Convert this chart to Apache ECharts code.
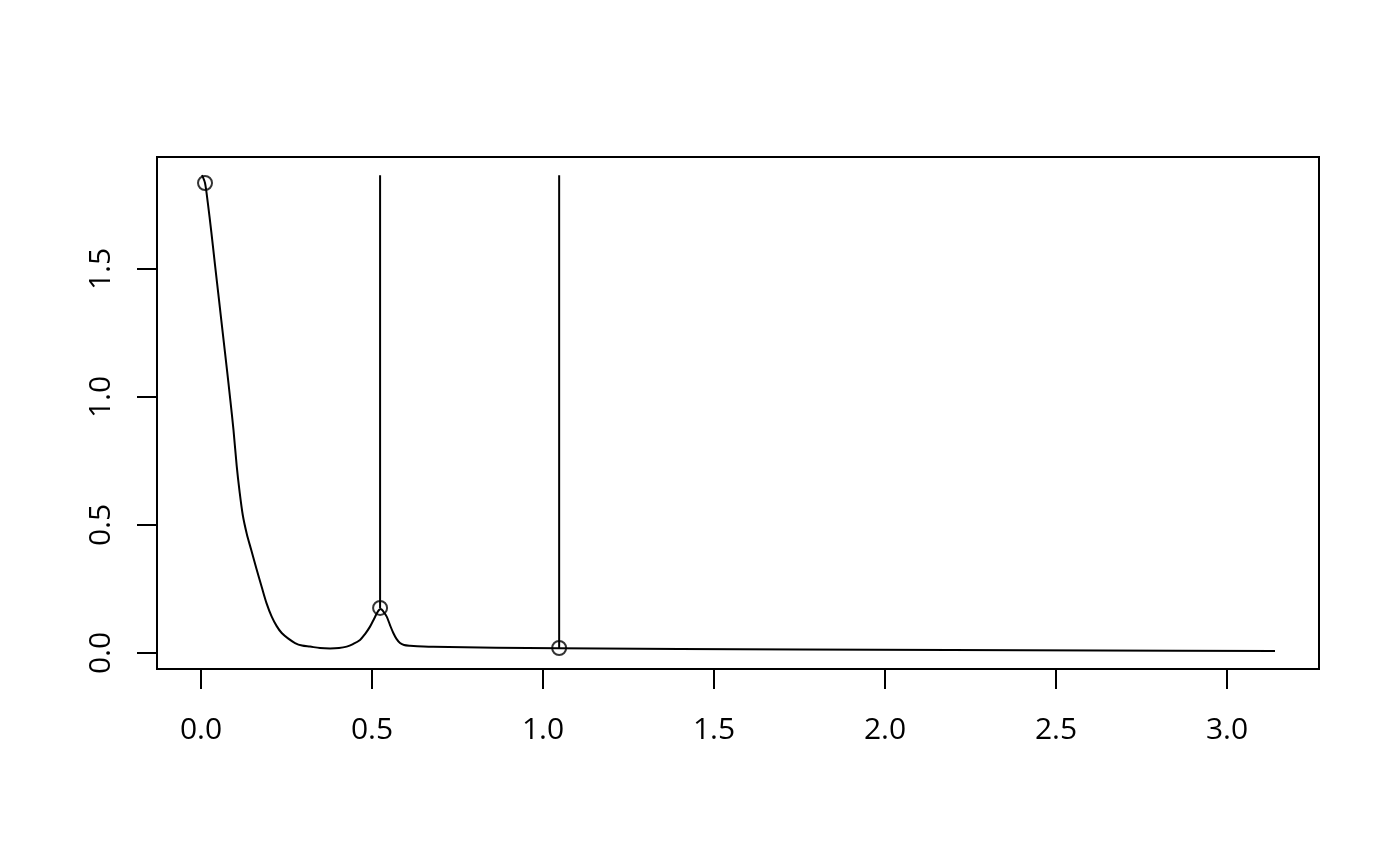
<!DOCTYPE html>
<html>
<head>
<meta charset="utf-8">
<script src="https://cdn.jsdelivr.net/npm/echarts@6/dist/echarts.min.js"></script>
<style>html,body{margin:0;padding:0;background:#fff;}#c{width:1400px;height:866px;}</style>
</head>
<body>
<div id="c"></div>
<script>
// spectral curve (frequency, density)
const freq = [0.0029, 0.0117, 0.0199, 0.0301, 0.0409, 0.0526, 0.0643, 0.076, 0.0857, 0.095, 0.1044, 0.1126, 0.1222, 0.1339, 0.1465, 0.1623, 0.1775, 0.1915, 0.2067, 0.2213, 0.236, 0.2544, 0.2749, 0.2953, 0.3187, 0.348, 0.3772, 0.4035, 0.426, 0.4444, 0.4649, 0.4795, 0.4942, 0.5058, 0.5146, 0.5205, 0.5254, 0.5322, 0.543, 0.5526, 0.5623, 0.5716, 0.5819, 0.5936, 0.6111, 0.6784, 1.0468, 1.751, 2.629, 3.1404];
const spec = [1.867, 1.836, 1.758, 1.645, 1.516, 1.379, 1.242, 1.105, 0.988, 0.871, 0.730, 0.632, 0.538, 0.465, 0.404, 0.328, 0.258, 0.195, 0.142, 0.105, 0.078, 0.057, 0.039, 0.029, 0.025, 0.0195, 0.018, 0.0195, 0.025, 0.035, 0.051, 0.074, 0.103, 0.133, 0.156, 0.168, 0.172, 0.164, 0.142, 0.109, 0.078, 0.055, 0.039, 0.031, 0.0285, 0.0246, 0.0184, 0.0137, 0.0098, 0.0078];
// marked peaks
const peakX = [0.0117, 0.5236, 1.0472];
const peakY = [1.836, 0.176, 0.0195];
// vertical segments (from top value down to peak)
const segX = [0.5236, 1.0472];
const segTop = 1.866;
const segBottom = [0.176, 0.0195];
// tick labels
const xTicks = [0, 0.5, 1.0, 1.5, 2.0, 2.5, 3.0];
const yTicks = [0, 0.5, 1.0, 1.5];

const chart = echarts.init(document.getElementById('c'), null, {renderer: 'canvas'});
const font = '"Open Sans", "DejaVu Sans", sans-serif';
const series = [
  {
    type: 'line',
    data: freq.map((f, i) => [f, spec[i]]),
    showSymbol: false,
    smooth: 0.3,
    lineStyle: {color: '#000', width: 2, join: 'round'},
    silent: true
  },
  {
    type: 'scatter',
    data: peakX.map((x, i) => [x, peakY[i]]),
    symbol: 'circle',
    symbolSize: 14,
    itemStyle: {color: 'rgba(0,0,0,0)', borderColor: '#000', borderWidth: 2},
    silent: true,
    z: 5
  }
];
segX.forEach((x, i) => {
  series.push({
    type: 'line',
    data: [[x, segTop], [x, segBottom[i]]],
    showSymbol: false,
    lineStyle: {color: '#000', width: 2},
    silent: true
  });
});

chart.setOption({
  animation: false,
  backgroundColor: '#fff',
  grid: {left: 157, right: 81, top: 157, bottom: 197, show: true, borderColor: '#000', borderWidth: 2, backgroundColor: 'transparent'},
  xAxis: {
    type: 'value',
    min: -0.1287,
    max: 3.269,
    axisLine: {show: false, onZero: false},
    splitLine: {show: false},
    axisTick: {show: true, inside: false, length: 20, lineStyle: {color: '#000', width: 2}, customValues: xTicks},
    axisLabel: {
      customValues: xTicks, margin: 46, color: '#000', fontSize: 30, fontFamily: font,
      formatter: v => v.toFixed(1)
    }
  },
  yAxis: {
    type: 'value',
    min: -0.0625,
    max: 1.9375,
    axisLine: {show: false, onZero: false},
    splitLine: {show: false},
    axisTick: {show: true, inside: false, length: 20, lineStyle: {color: '#000', width: 2}, customValues: yTicks},
    axisLabel: {
      customValues: yTicks, margin: 41, rotate: 90, color: '#000', fontSize: 30, fontFamily: font,
      formatter: v => v.toFixed(1)
    }
  },
  series: series
});
</script>
</body>
</html>
